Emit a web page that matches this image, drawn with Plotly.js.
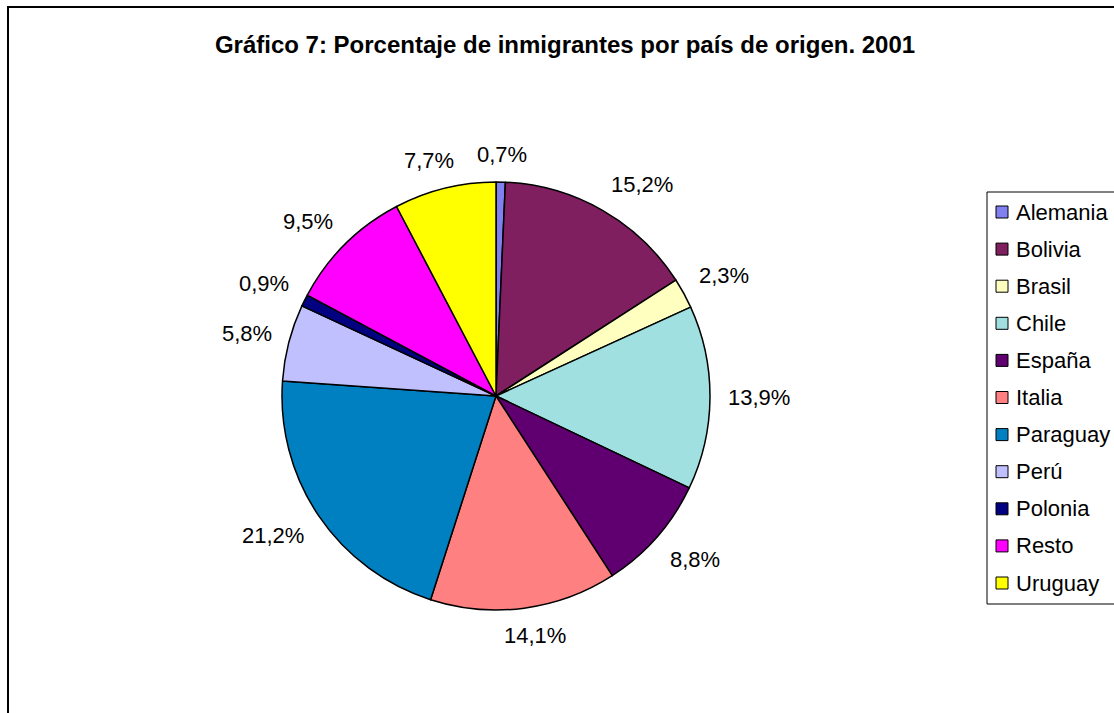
<!DOCTYPE html>
<html>
<head>
<meta charset="utf-8">
<script src="https://cdn.plot.ly/plotly-3.0.1.min.js"></script>
<style>html,body{margin:0;padding:0;background:#fff;}#chart{width:1114px;height:713px;}</style>
</head>
<body>
<div id="chart"></div>
<script>
const countries = ["Alemania","Bolivia","Brasil","Chile","España","Italia","Paraguay","Perú","Polonia","Resto","Uruguay"];
const percentages = [0.7, 15.2, 2.3, 13.9, 8.8, 14.1, 21.2, 5.8, 0.9, 9.5, 7.7];
const colors = ["#8080F0","#7F1F5F","#FFFFC0","#A0E0E0","#600070","#FF8080","#0080C0","#C0C0FF","#000080","#FF00FF","#FFFF00"];
const chartTitle = "Gráfico 7: Porcentaje de inmigrantes por país de origen. 2001";

const W = 1114, H = 713;
const font = "Liberation Sans, Arial, sans-serif";
const FS = 22;

// Pie placement (pixels)
const CX = 496, CY = 396, R = 214;

const trace = {
  type: "pie",
  labels: countries,
  values: percentages,
  sort: false,
  direction: "clockwise",
  rotation: 0,
  marker: {colors: colors, line: {color: "#000", width: 1.5}},
  textinfo: "none",
  hoverinfo: "label+value",
  showlegend: false,
  domain: {x: [(CX-R)/W, (CX+R)/W], y: [(H-CY-R)/H, (H-CY+R)/H]}
};

const shapes = [];
const annotations = [];

// Chart frame
shapes.push({type:"rect", xref:"paper", yref:"paper", x0: 8/W, x1: 1.01, y0: -0.01, y1: (H-7)/H, line:{color:"#000", width:2}, fillcolor:"rgba(0,0,0,0)"});

// Outside data labels, placed from the slice mid-angles
const total = percentages.reduce((a,b)=>a+b,0);
let cum = 0;
const gap = 18;
const clamp = (t)=>Math.max(-1, Math.min(1, t));
percentages.forEach((v)=>{
  const mid = (cum + v/2) / total * 2*Math.PI;
  cum += v;
  const dx = Math.sin(mid), dy = -Math.cos(mid);
  const txt = v.toFixed(1).replace(".", ",") + "%";
  const w = txt.length * 12.4, h = 20;
  const px = CX + dx*(R+gap) + clamp(2*dx)*w/2;
  const py = CY + dy*(R+gap) + clamp(2*dy)*h/2;
  annotations.push({xref:"paper", yref:"paper", x: px/W, y: 1 - py/H, xanchor:"center", yanchor:"middle", text: txt, showarrow:false, font:{family: font, size: FS, color:"#000"}});
});

// Legend drawn manually (box, swatches, labels)
shapes.push({type:"rect", xref:"paper", yref:"paper", x0: 987/W, x1: 1.01, y0: (H-604)/H, y1: (H-192)/H, line:{color:"#000", width:1}, fillcolor:"#fff"});
const step = (583-212)/(countries.length-1);
countries.forEach((c,i)=>{
  const cy = 212 + i*step;
  shapes.push({type:"rect", xref:"paper", yref:"paper", x0: 996/W, x1: 1008/W, y0: (H-(cy+6))/H, y1: (H-(cy-6))/H, line:{color:"#000", width:1}, fillcolor: colors[i]});
  annotations.push({xref:"paper", yref:"paper", x: 1014/W, y: (H-cy)/H, xanchor:"left", yanchor:"middle", text: c, showarrow:false, font:{family: font, size: FS, color:"#000"}});
});

const layout = {
  width: W, height: H,
  margin: {l:0, r:0, t:0, b:0},
  paper_bgcolor: "#fff",
  separators: ",.",
  title: {text: "<b>"+chartTitle+"</b>", font:{family: font, size: 24, color:"#000"}, x: 565/W, xanchor:"center", y: (H-45)/H, yanchor:"middle", xref:"paper", yref:"paper"},
  showlegend: false,
  shapes: shapes,
  annotations: annotations
};

Plotly.newPlot("chart", [trace], layout, {displayModeBar:false, staticPlot:true});
</script>
</body>
</html>
